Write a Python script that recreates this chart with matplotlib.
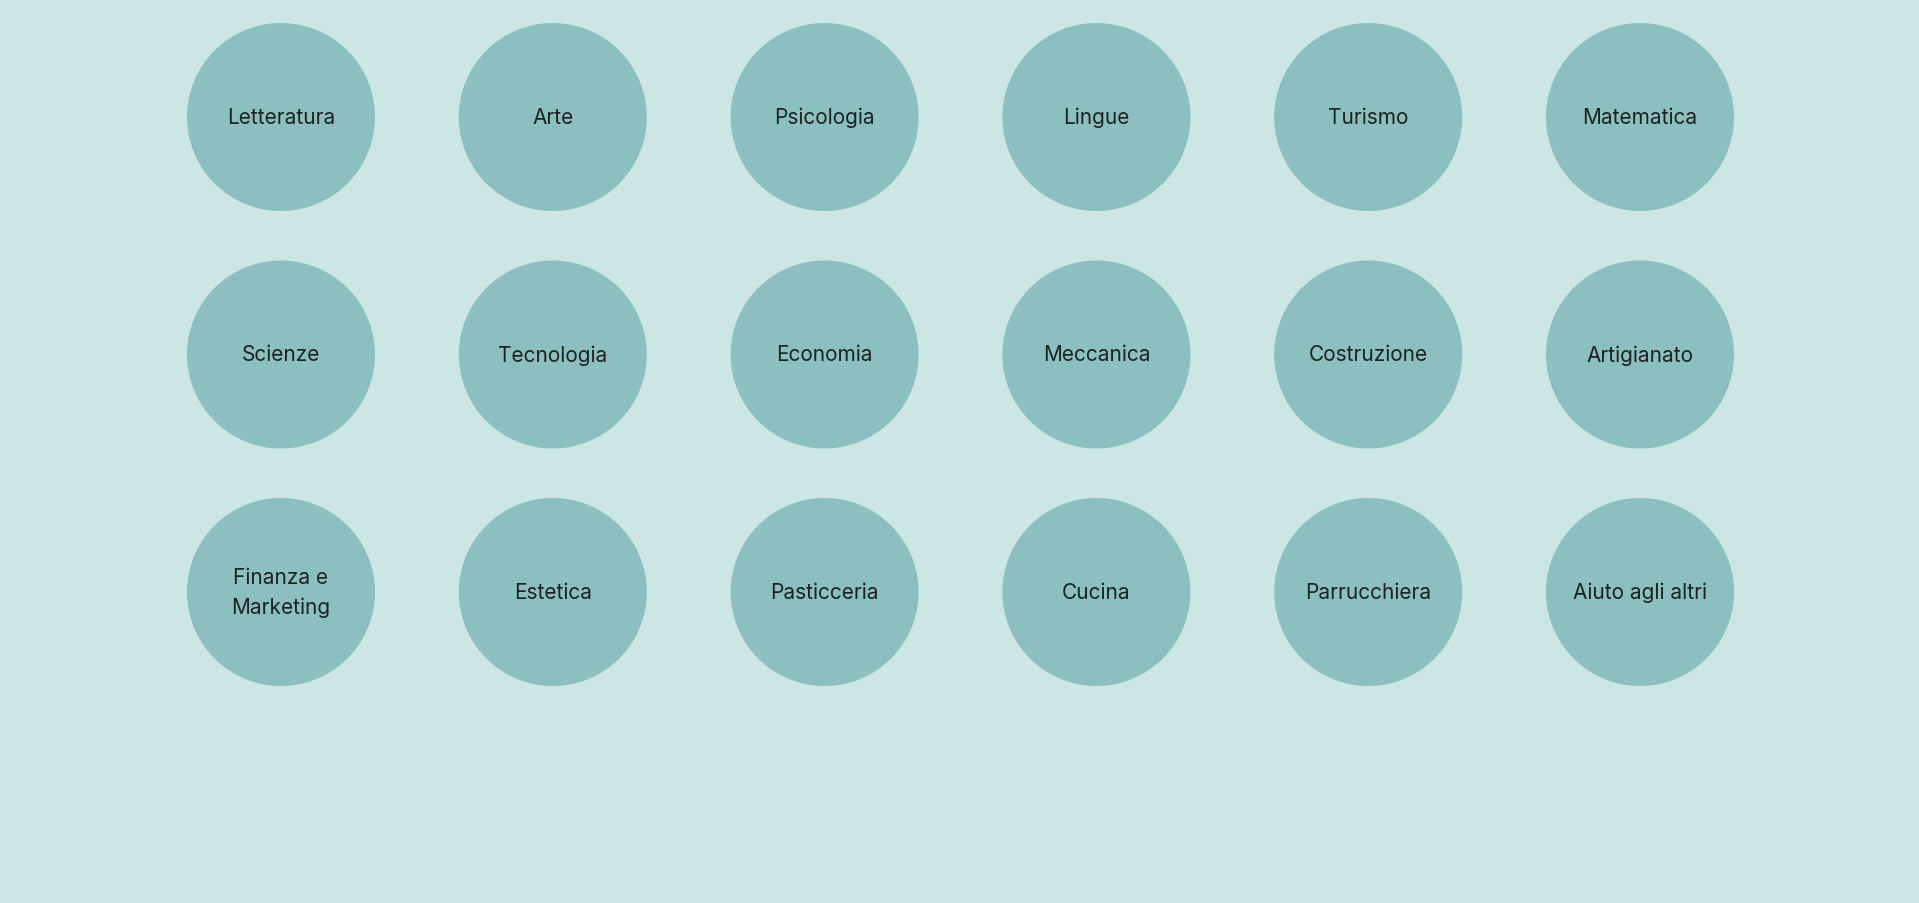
import matplotlib
matplotlib.use("Agg")
import matplotlib.pyplot as plt
from matplotlib.patches import Circle

labels = ["Letteratura", "Arte", "Psicologia", "Lingue", "Turismo", "Matematica",
          "Scienze", "Tecnologia", "Economia", "Meccanica", "Costruzione", "Artigianato",
          "Finanza e\nMarketing", "Estetica", "Pasticceria", "Cucina", "Parrucchiera", "Aiuto agli altri"]
ncols = 6

W, H = 1919, 904
fig = plt.figure(figsize=(W/100, H/100), dpi=100, facecolor="#cce5e5")
ax = fig.add_axes([0, 0, 1, 1])
ax.set_xlim(0, W); ax.set_ylim(H, 0); ax.axis("off")
ax.set_facecolor("#cce5e5")

x0, dx = 281, 271.8
y0, dy = 118, 237.5
r = 94
for i, lab in enumerate(labels):
    row, col = divmod(i, ncols)
    cx, cy = x0 + col*dx, y0 + row*dy
    ax.add_patch(Circle((cx, cy), r, facecolor="#8cbfbf", edgecolor="none"))
    ax.text(cx, cy, lab, ha="center", va="center", fontsize=15, color="#1c2222",
            family=["Inter", "DejaVu Sans"], linespacing=1.6)

fig.savefig("out.png", dpi=100, facecolor=fig.get_facecolor())
